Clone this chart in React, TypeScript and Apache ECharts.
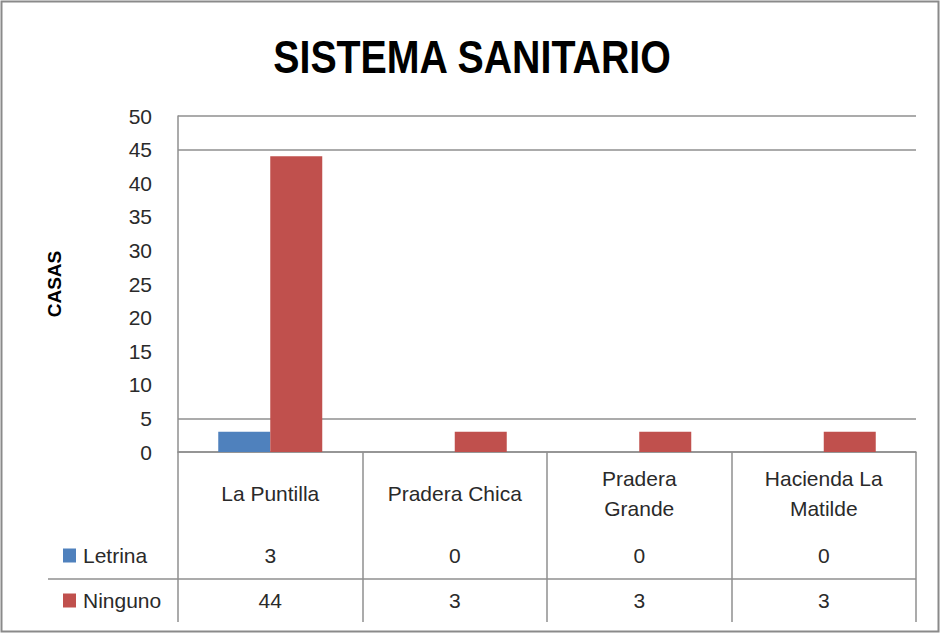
import React, { useEffect, useRef } from "react";
import * as echarts from "echarts";

const categories = ["La Puntilla", "Pradera Chica", "Pradera Grande", "Hacienda La Matilde"];
const categoryLabels = ["La Puntilla", "Pradera Chica", "Pradera\nGrande", "Hacienda La\nMatilde"];
const seriesNames = ["Letrina", "Ninguno"];
const letrina = [3, 0, 0, 0];
const ninguno = [44, 3, 3, 3];
const yMin = 0;
const yMax = 50;
const yInterval = 5;
const visibleGridTicks = [0, 5, 45, 50];
const titleText = "SISTEMA SANITARIO";

const FONT = "'Liberation Sans', Arial, sans-serif";
const LINE = "#8f8f8f";
const TEXT = "#2a2a2a";
const COLORS = ["#4F81BD", "#C0504D"];

export default function App() {
  const ref = useRef<HTMLDivElement>(null);
  useEffect(() => {
    if (!ref.current) return;
    const chart = echarts.init(ref.current, null, { renderer: "svg" });
    const gridColors: string[] = [];
    for (let v = yMin; v <= yMax; v += yInterval) {
      gridColors.push(visibleGridTicks.includes(v) ? LINE : "rgba(0,0,0,0)");
    }
    const gridLeft = 178;
    const gridTop = 116;
    const gridWidth = 738;
    const gridHeight = 336;
    chart.setOption({
      animation: false,
      backgroundColor: "#ffffff",
      legend: {
        orient: "vertical",
        left: 58,
        top: 540,
        itemWidth: 13,
        itemHeight: 14,
        itemGap: 24,
        icon: "rect",
        data: seriesNames,
        textStyle: { fontFamily: FONT, fontSize: 21, color: TEXT, padding: [0, 0, 0, 2] },
        selectedMode: false,
      },
      grid: { left: gridLeft, top: gridTop, width: gridWidth, height: gridHeight, containLabel: false },
      xAxis: {
        type: "category",
        data: categories,
        boundaryGap: true,
        axisLine: { show: true, lineStyle: { color: LINE, width: 1.5 } },
        axisTick: { show: true, alignWithLabel: false, length: 170, lineStyle: { color: LINE, width: 1.5 } },
        axisLabel: { show: false },
        splitLine: { show: false },
      },
      yAxis: {
        type: "value",
        min: yMin,
        max: yMax,
        interval: yInterval,
        name: "CASAS",
        nameLocation: "middle",
        nameRotate: 90,
        nameGap: 114,
        nameTextStyle: { fontFamily: FONT, fontWeight: "bold", fontSize: 19, color: "#000" },
        axisLine: { show: true, lineStyle: { color: LINE, width: 1.5 } },
        axisTick: { show: false },
        axisLabel: { fontFamily: FONT, fontSize: 21, color: TEXT, margin: 26 },
        splitLine: { show: true, lineStyle: { color: gridColors, width: 1.5 } },
      },
      series: [
        {
          name: seriesNames[0],
          type: "bar",
          data: letrina,
          barWidth: 52,
          barGap: "0%",
          itemStyle: { color: COLORS[0] },
        },
        {
          name: seriesNames[1],
          type: "bar",
          data: ninguno,
          barWidth: 52,
          barGap: "0%",
          itemStyle: { color: COLORS[1] },
        },
      ],
    });

    const graphics: any[] = [
      {
        type: "rect",
        shape: { x: 1.5, y: 1.5, width: 937, height: 630 },
        style: { fill: "none", stroke: "#8a8a8a", lineWidth: 2 },
        silent: true,
      },
      {
        type: "text",
        x: 472,
        y: 57,
        scaleX: 0.855,
        style: {
          text: titleText,
          fontFamily: FONT,
          fontWeight: "bold",
          fontSize: 46,
          fill: "#000",
          align: "center",
          verticalAlign: "middle",
        },
        silent: true,
      },
      {
        type: "line",
        shape: { x1: 48, y1: 579, x2: gridLeft + gridWidth, y2: 579 },
        style: { stroke: LINE, lineWidth: 1.5 },
        silent: true,
      },
    ];
    categories.forEach((c, i) => {
      const x = chart.convertToPixel({ xAxisIndex: 0 }, c) as number;
      graphics.push({
        type: "text",
        x,
        y: 493,
        style: {
          text: categoryLabels[i],
          fontFamily: FONT,
          fontSize: 21,
          lineHeight: 30,
          fill: TEXT,
          align: "center",
          verticalAlign: "middle",
        },
        silent: true,
      });
      graphics.push({
        type: "text",
        x,
        y: 555,
        style: { text: String(letrina[i]), fontFamily: FONT, fontSize: 21, fill: TEXT, align: "center", verticalAlign: "middle" },
        silent: true,
      });
      graphics.push({
        type: "text",
        x,
        y: 600,
        style: { text: String(ninguno[i]), fontFamily: FONT, fontSize: 21, fill: TEXT, align: "center", verticalAlign: "middle" },
        silent: true,
      });
    });
    chart.setOption({ graphic: graphics });

    return () => chart.dispose();
  }, []);
  return (
    <div
      ref={ref}
      style={{ position: "fixed", left: 0, top: 0, width: 941, height: 634 }}
    />
  );
}
